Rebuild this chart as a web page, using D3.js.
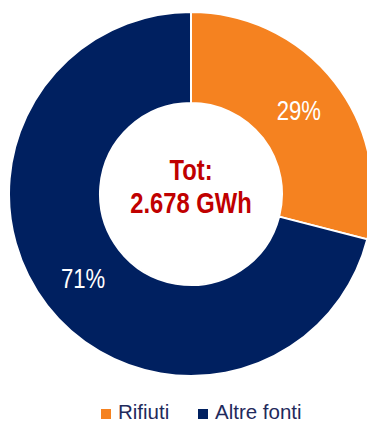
<!DOCTYPE html>
<html>
<head>
<meta charset="utf-8">
<script src="https://cdn.jsdelivr.net/npm/d3@7"></script>
<style>
  html, body { margin: 0; padding: 0; background: #fff; }
  svg { display: block; }
</style>
</head>
<body>
<div id="chart"></div>
<script>
// data
var categories = ["Rifiuti", "Altre fonti"];
var values = [29, 71];
var colors = ["#F58220", "#002060"];
var totalLabel = ["Tot:", "2.678 GWh"];

var width = 367, height = 424;
var cx = 191, cy = 194;
var outerR = 182, innerR = 91;
var narrow = 0.82; // no narrow font installed, squeeze instead

var svg = d3.select("#chart")
  .append("svg")
  .attr("width", width)
  .attr("height", height);

var pie = d3.pie().sort(null).value(function(d) { return d; });
var arc = d3.arc().innerRadius(innerR).outerRadius(outerR);

var g = svg.append("g").attr("transform", "translate(" + cx + "," + cy + ")");

var arcs = pie(values);

g.selectAll("path")
  .data(arcs)
  .enter()
  .append("path")
  .attr("d", arc)
  .style("fill", function(d, i) { return colors[i]; })
  .style("stroke", "#fff")
  .style("stroke-width", 2);

// percent labels
g.selectAll("text.pct")
  .data(arcs)
  .enter()
  .append("text")
  .attr("class", "pct")
  .attr("transform", function(d) { var c = arc.centroid(d); return "translate(" + c[0] + "," + (c[1] + 10) + ") scale(" + narrow + ",1)"; })
  .attr("text-anchor", "middle")
  .style("font-family", "'Liberation Sans', Arial, sans-serif")
  .style("font-size", "27px")
  .style("fill", "#fff")
  .text(function(d) { return d.data + "%"; });

// center total
g.selectAll("text.tot")
  .data(totalLabel)
  .enter()
  .append("text")
  .attr("class", "tot")
  .attr("transform", function(d, i) { return "translate(0," + (i == 0 ? -14 : 19) + ") scale(" + narrow + ",1)"; })
  .attr("text-anchor", "middle")
  .style("font-family", "'Liberation Sans', Arial, sans-serif")
  .style("font-weight", "bold")
  .style("font-size", "29px")
  .style("fill", "#C00000")
  .text(function(d) { return d; });

// legend
var legendX = [101, 198];
var legend = svg.selectAll("g.legend")
  .data(categories)
  .enter()
  .append("g")
  .attr("class", "legend")
  .attr("transform", function(d, i) { return "translate(" + legendX[i] + ",409)"; });

legend.append("rect")
  .attr("width", 10)
  .attr("height", 10)
  .style("fill", function(d, i) { return colors[i]; });

legend.append("text")
  .attr("x", 17)
  .attr("y", 10)
  .style("font-family", "'Liberation Sans', Arial, sans-serif")
  .style("font-size", "20.5px")
  .style("fill", "#1F2A5C")
  .text(function(d) { return d; });
</script>
</body>
</html>
